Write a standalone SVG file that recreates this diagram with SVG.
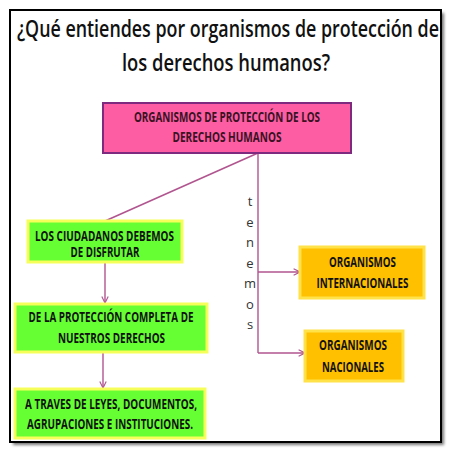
<svg xmlns="http://www.w3.org/2000/svg" width="453" height="453" viewBox="0 0 453 453">
<defs>
<style>
.t{font-family:"Open Sans","Liberation Sans",sans-serif;fill:#111}
.title{font-size:24px;font-weight:600}
.lbl{font-size:13.5px;font-weight:700;text-anchor:middle}
.big{font-size:14px}
.pk{fill:#3a1224}
.tn{font-family:"Open Sans","Liberation Sans",sans-serif;font-size:13px;fill:#333;text-anchor:middle}
.conn{stroke:#b0558f;stroke-width:1.4;fill:none}
.green{fill:#66ff33;stroke:#f6ff5a;stroke-width:3}
.orange{fill:#ffc000;stroke:#ffe24a;stroke-width:3}
.pink{fill:#fd5da2;stroke:#7e2a7e;stroke-width:2}
</style>
<filter id="sh" x="-5%" y="-5%" width="110%" height="110%"><feGaussianBlur stdDeviation="1.5"/></filter>
<marker id="ar" viewBox="0 0 10 10" refX="9" refY="5" markerWidth="8" markerHeight="8" markerUnits="userSpaceOnUse" orient="auto">
<path d="M1,1 L9,5 L1,9" fill="none" stroke="#b0558f" stroke-width="1.4"/>
</marker>
</defs>
<rect width="453" height="453" fill="#fff"/>
<rect x="13" y="13" width="431" height="432" fill="#777" filter="url(#sh)"/>
<rect x="10" y="10" width="431" height="432" fill="#fff" stroke="#000" stroke-width="2"/>
<g id="title">
<text class="t title" x="17" y="37" textLength="422" lengthAdjust="spacingAndGlyphs">¿Qué entiendes por organismos de protección de</text>
<text class="t title" x="122" y="71" textLength="208" lengthAdjust="spacingAndGlyphs">los derechos humanos?</text>
</g>
<g id="connectors">
<path class="conn" d="M258,153 L105,221"/>
<path class="conn" d="M258,153 V353"/>
<path class="conn" d="M258,272 H300" marker-end="url(#ar)"/>
<path class="conn" d="M258,353 H305" marker-end="url(#ar)"/>
<path class="conn" d="M105,262 V303" marker-end="url(#ar)"/>
<path class="conn" d="M103,352 V388" marker-end="url(#ar)"/>
</g>
<g id="tenemos">
<text class="tn" x="250" y="206">t</text>
<text class="tn" x="250" y="226.5">e</text>
<text class="tn" x="250" y="247">n</text>
<text class="tn" x="250" y="267.5">e</text>
<text class="tn" x="250" y="288">m</text>
<text class="tn" x="250" y="308.5">o</text>
<text class="tn" x="250" y="329">s</text>
</g>
<g id="n-organismos">
<rect class="pink" x="103" y="103" width="248" height="50"/>
<text class="t lbl pk" x="227" y="121.5" textLength="186" lengthAdjust="spacingAndGlyphs">ORGANISMOS DE PROTECCIÓN DE LOS</text>
<text class="t lbl pk" x="227" y="142" textLength="109" lengthAdjust="spacingAndGlyphs">DERECHOS HUMANOS</text>
</g>
<g id="n-ciudadanos">
<rect class="green" x="28" y="221" width="154" height="41"/>
<text class="t lbl" x="104.5" y="241" textLength="139" lengthAdjust="spacingAndGlyphs">LOS CIUDADANOS DEBEMOS</text>
<text class="t lbl" x="105" y="256.5" textLength="69" lengthAdjust="spacingAndGlyphs">DE DISFRUTAR</text>
</g>
<g id="n-proteccion">
<rect class="green" x="15" y="304" width="192" height="48"/>
<text class="t lbl big" x="111" y="321.5" textLength="165" lengthAdjust="spacingAndGlyphs">DE LA PROTECCIÓN COMPLETA DE</text>
<text class="t lbl big" x="111.5" y="343" textLength="107" lengthAdjust="spacingAndGlyphs">NUESTROS DERECHOS</text>
</g>
<g id="n-leyes">
<rect class="green" x="15" y="389" width="190" height="49"/>
<text class="t lbl big" x="111" y="408.5" textLength="172" lengthAdjust="spacingAndGlyphs">A TRAVES DE LEYES, DOCUMENTOS,</text>
<text class="t lbl big" x="110" y="429" textLength="166" lengthAdjust="spacingAndGlyphs">AGRUPACIONES E INSTITUCIONES.</text>
</g>
<g id="n-internacionales">
<rect class="orange" x="300" y="247" width="124" height="51"/>
<text class="t lbl" x="362.5" y="267" textLength="67" lengthAdjust="spacingAndGlyphs">ORGANISMOS</text>
<text class="t lbl" x="362.5" y="288" textLength="92" lengthAdjust="spacingAndGlyphs">INTERNACIONALES</text>
</g>
<g id="n-nacionales">
<rect class="orange" x="305" y="331" width="98" height="50"/>
<text class="t lbl" x="353" y="350" textLength="68" lengthAdjust="spacingAndGlyphs">ORGANISMOS</text>
<text class="t lbl" x="353" y="372" textLength="62" lengthAdjust="spacingAndGlyphs">NACIONALES</text>
</g>
</svg>
